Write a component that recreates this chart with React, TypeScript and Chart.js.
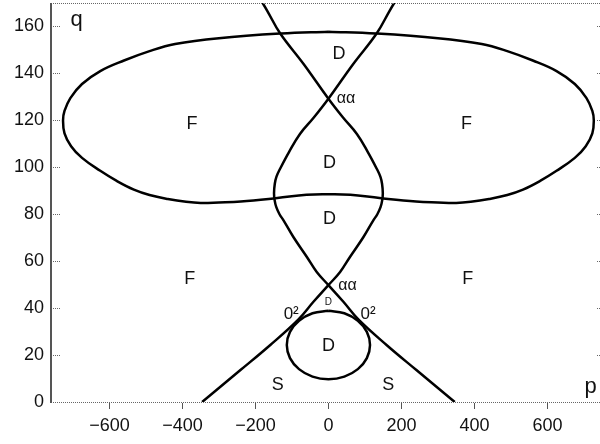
import React, { useEffect, useRef } from 'react';
import { Chart, registerables } from 'chart.js';

Chart.register(...registerables);

const xTicks = [-600, -400, -200, 0, 200, 400, 600];
const yTicks = [0, 20, 40, 60, 80, 100, 120, 140, 160];

// outer dumbbell-shaped loop (p, q)
const loopP = [0, 130, 300, 420, 490, 560, 625, 675, 707, 723, 727, 723, 705, 675, 625, 580, 533, 490, 440, 390, 350, 300, 240, 140, 60, 0, -60, -140, -240, -300, -350, -390, -440, -490, -533, -580, -625, -675, -705, -723, -727, -723, -707, -675, -625, -560, -490, -420, -300, -130, 0];
const loopQ = [157.8, 157, 155, 152.5, 149.5, 145.5, 141, 135.5, 129.5, 124, 120, 114.5, 109, 104, 98.5, 94.2, 90.5, 88.2, 86.5, 85.3, 84.8, 85, 85.4, 86.9, 88.3, 88.5, 88.3, 86.9, 85.4, 85, 84.8, 85.3, 86.5, 88.2, 90.5, 94.2, 98.5, 104, 109, 114.5, 120, 124, 129.5, 135.5, 141, 145.5, 149.5, 152.5, 155, 157, 157.8];

// first crossing curve
const curveAP = [-186, -168, -132, -68, 0, 40, 78, 108, 132, 142.3, 146.9, 149, 147.4, 143, 134, 123, 96, 59, 32, 0, -41, -82, -160, -241, -346];
const curveAQ = [171.5, 166.8, 157, 144, 129.2, 121.2, 114.2, 106.5, 99.5, 96, 93, 89, 86, 83.1, 80, 77.4, 70.3, 61.8, 55.4, 49.8, 42.7, 35.2, 24.2, 13.6, 0];

// second crossing curve
const curveBP = [186, 168, 132, 68, 0, -40, -78, -108, -132, -142.3, -146.9, -149, -147.4, -143, -134, -123, -96, -59, -32, 0, 41, 82, 160, 241, 346];
const curveBQ = [171.5, 166.8, 157, 144, 129.2, 121.2, 114.2, 106.5, 99.5, 96, 93, 89, 86, 83.1, 80, 77.4, 70.3, 61.8, 55.4, 49.8, 42.7, 35.2, 24.2, 13.6, 0];

// small oval
const ovalP = [0, 43.6, 80.6, 105.3, 114, 105.3, 80.6, 43.6, 0, -43.6, -80.6, -105.3, -114, -105.3, -80.6, -43.6, 0];
const ovalQ = [38.9, 37.8, 34.6, 29.9, 24.3, 18.7, 14.0, 10.8, 9.7, 10.8, 14.0, 18.7, 24.3, 29.9, 34.6, 37.8, 38.9];

// region labels
const labelText = ['q', 'p', 'F', 'F', 'F', 'F', 'D', 'D', 'D', 'D', 'D', 'αα', 'αα', '0²', '0²', 'S', 'S'];
const labelP = [-690, 718, -374, 378, -380, 382, 29, 3, 3, 0, 0, 48, 52.6, -102, 108.7, -139, 164];
const labelQ = [162.6, 6.5, 118.6, 118.6, 52.6, 52.6, 148.4, 101.8, 78, 23.8, 42.7, 129.2, 49.8, 37.5, 37.5, 7.2, 7.2];
const labelSize = [22, 22, 18, 18, 18, 18, 18, 18, 18, 18, 10, 16, 16, 17, 17, 18, 18];

const FONT = '"Liberation Sans", Arial, Helvetica, sans-serif';

const zip = (xs: number[], ys: number[]) => xs.map((x, i) => ({ x, y: ys[i] }));

const framePlugin = {
  id: 'frame',
  afterDraw(chart: any) {
    const { ctx, chartArea: a, scales } = chart;
    const ln = (x1: number, y1: number, x2: number, y2: number) => {
      ctx.beginPath();
      ctx.moveTo(x1, y1);
      ctx.lineTo(x2, y2);
      ctx.stroke();
    };
    ctx.save();
    ctx.strokeStyle = '#666';
    ctx.lineWidth = 1;
    ctx.setLineDash([1, 1]);
    ln(a.left, a.top + 0.5, a.right, a.top + 0.5);
    ln(a.left, a.bottom + 0.5, a.right, a.bottom + 0.5);
    for (const v of yTicks) {
      const y = Math.round(scales.y.getPixelForValue(v)) + 0.5;
      ln(a.left, y, a.left + 10, y);
      ln(a.right - 3, y, a.right, y);
    }
    ctx.setLineDash([]);
    ctx.strokeStyle = '#555';
    ctx.lineWidth = 2;
    ln(a.left, a.top, a.left, a.bottom + 1);
    ctx.lineWidth = 1;
    for (const v of xTicks) {
      const x = Math.round(scales.x.getPixelForValue(v)) + 0.5;
      ln(x, a.bottom + 1, x, a.bottom + 7);
    }
    ctx.fillStyle = '#111';
    ctx.textAlign = 'center';
    ctx.textBaseline = 'middle';
    labelText.forEach((t, i) => {
      ctx.font = `${labelSize[i]}px ${FONT}`;
      ctx.fillText(t, scales.x.getPixelForValue(labelP[i]), scales.y.getPixelForValue(labelQ[i]));
    });
    ctx.restore();
  },
};

export default function App() {
  const ref = useRef<HTMLCanvasElement | null>(null);
  useEffect(() => {
    document.body.style.margin = '0';
    const lineDs = (data: any[]) => ({
      data,
      showLine: true,
      borderColor: '#000',
      borderWidth: 2.5,
      pointRadius: 0,
      tension: 0.4,
      fill: false,
    });
    const chart = new Chart(ref.current as HTMLCanvasElement, {
      type: 'scatter',
      data: {
        datasets: [
          lineDs(zip(loopP, loopQ)),
          lineDs(zip(curveAP, curveAQ)),
          lineDs(zip(curveBP, curveBQ)),
          lineDs(zip(ovalP, ovalQ)),
        ],
      },
      options: {
        responsive: false,
        animation: false,
        layout: { padding: { top: 3, right: 0, left: 0, bottom: 0 } },
        plugins: { legend: { display: false }, tooltip: { enabled: false } },
        scales: {
          x: {
            type: 'linear',
            min: -760,
            max: 744,
            grid: { display: false, drawTicks: false },
            border: { display: false },
            afterBuildTicks: (s: any) => {
              s.ticks = xTicks.map((v) => ({ value: v }));
            },
            afterFit: (s: any) => {
              s.height = 42;
              s.paddingLeft = 0;
              s.paddingRight = 0;
            },
            ticks: {
              padding: 13,
              color: '#111',
              font: { family: FONT, size: 18 },
              maxRotation: 0,
              callback: (v: any) => String(v).replace('-', '\u2212'),
            },
          },
          y: {
            type: 'linear',
            min: 0,
            max: 170,
            grid: { display: false, drawTicks: false },
            border: { display: false },
            afterBuildTicks: (s: any) => {
              s.ticks = yTicks.map((v) => ({ value: v }));
            },
            afterFit: (s: any) => {
              s.width = 51;
              s.paddingTop = 0;
              s.paddingBottom = 0;
            },
            ticks: {
              padding: 7,
              color: '#111',
              font: { family: FONT, size: 18 },
            },
          },
        },
      },
      plugins: [framePlugin],
    });
    return () => chart.destroy();
  }, []);
  return <canvas ref={ref} width={600} height={444} style={{ display: 'block' }} />;
}
